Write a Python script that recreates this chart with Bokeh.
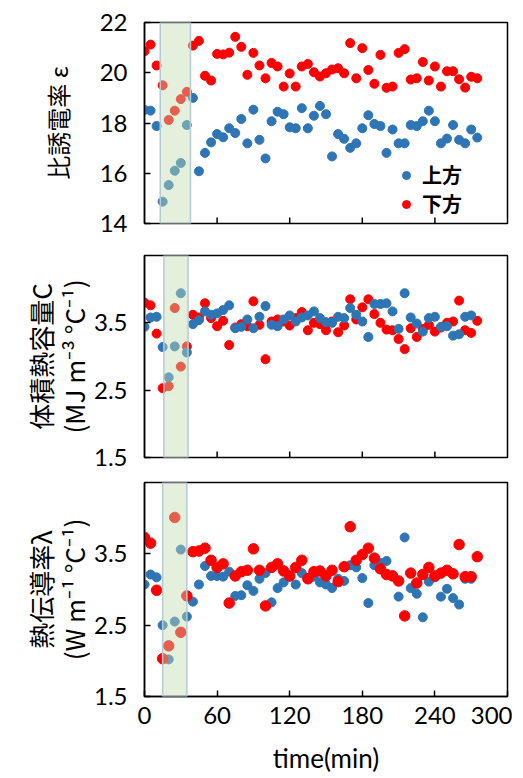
import math
from bokeh.plotting import figure
from bokeh.layouts import column
from bokeh.models import BoxAnnotation, Legend, LegendItem, FixedTicker, Range1d
from bokeh.embed import file_html
from bokeh.resources import INLINE

# time (min)
time_lower = [0, 5, 10, 15, 20, 25, 30, 35, 40, 45, 50, 55, 60, 65, 70, 75, 80, 85, 90, 95,
              100, 105, 110, 115, 120, 125, 130, 135, 140, 145, 150, 155, 160, 165, 170, 175,
              180, 185, 190, 195, 200, 205, 210, 215, 220, 225, 230, 235, 240, 245, 250, 255,
              260, 265, 270, 275]
time_upper = [0, 5, 10, 15, 20, 25, 30, 35, 40, 45, 50, 55, 60, 65, 70, 75, 80, 85, 90, 95,
              100, 105, 110, 115, 120, 125, 130, 135, 140, 145, 150, 155, 160, 165, 170, 175,
              180, 185, 190, 195, 200, 205, 210, 215, 220, 225, 230, 235, 240, 245, 250, 255,
              260, 265, 270]
time_upper_eps = time_lower

# 比誘電率 ε
eps_upper = [18.52, 18.49, 17.88, 14.87, 15.53, 16.10, 16.41, 17.92, 19.00, 16.08,
             16.81, 17.23, 17.56, 17.43, 17.79, 17.60, 18.16, 17.19, 18.53, 17.33,
             16.59, 18.07, 18.45, 18.35, 17.83, 17.79, 18.59, 17.79, 18.29, 18.68,
             18.35, 16.67, 17.56, 17.37, 17.01, 17.19, 17.79, 18.31, 17.96, 17.88,
             16.81, 17.74, 17.19, 17.19, 17.92, 17.88, 18.07, 18.49, 18.07, 17.19,
             17.38, 17.92, 17.33, 17.19, 17.74, 17.42]
eps_lower = [20.86, 21.12, 20.29, 19.50, 18.12, 18.49, 18.95, 19.24, 21.08, 21.27,
             19.88, 19.69, 20.75, 20.73, 20.80, 21.43, 21.03, 19.92, 20.79, 20.29,
             19.78, 20.39, 20.25, 19.45, 19.97, 19.45, 20.25, 20.35, 20.02, 19.85,
             19.98, 20.13, 20.18, 19.98, 21.18, 19.78, 20.98, 20.11, 19.56, 20.71,
             19.40, 19.45, 20.79, 20.94, 19.73, 19.78, 20.43, 19.69, 20.25, 19.45,
             20.06, 20.06, 19.74, 19.41, 19.84, 19.78]

# 体積熱容量 C
C_upper = [3.44, 3.58, 3.59, 3.14, 2.69, 3.15, 3.94, 3.06, 3.48, 3.54,
           3.67, 3.62, 3.64, 3.69, 3.76, 3.42, 3.44, 3.55, 3.42, 3.59,
           3.75, 3.47, 3.45, 3.55, 3.61, 3.52, 3.58, 3.61, 3.67, 3.57,
           3.51, 3.50, 3.59, 3.57, 3.72, 3.62, 3.52, 3.29, 3.78, 3.78,
           3.79, 3.67, 3.41, 3.94, 3.58, 3.49, 3.37, 3.57, 3.59, 3.44,
           3.45, 3.31, 3.33, 3.59, 3.61]
C_lower = [3.80, 3.76, 3.34, 2.53, 2.56, 3.72, 2.85, 3.15, 3.62, 3.58,
           3.79, 3.57, 3.45, 3.53, 3.17, 3.43, 3.48, 3.45, 3.82, 3.47,
           2.96, 3.52, 3.55, 3.52, 3.46, 3.57, 3.66, 3.39, 3.50, 3.48,
           3.39, 3.52, 3.36, 3.46, 3.85, 3.55, 3.73, 3.85, 3.63, 3.50,
           3.40, 3.39, 3.26, 3.11, 3.42, 3.29, 3.41, 3.47, 3.37, 3.43,
           3.50, 3.52, 3.83, 3.39, 3.35, 3.53]

# 熱伝導率 λ
lam_upper = [3.07, 3.21, 3.17, 2.50, 2.02, 2.55, 3.56, 2.62, 2.83, 3.07,
             3.33, 3.19, 3.19, 3.18, 3.25, 2.91, 2.92, 3.06, 2.98, 3.15,
             3.23, 2.82, 3.02, 3.10, 3.18, 3.07, 3.23, 3.16, 3.18, 3.10,
             3.07, 3.02, 3.15, 3.12, 3.34, 3.31, 3.16, 2.81, 3.34, 3.37,
             3.40, 3.20, 2.90, 3.73, 3.02, 2.94, 2.61, 3.11, 3.17, 2.90,
             3.01, 2.88, 2.79, 3.15, 3.15]
lam_lower = [3.73, 3.65, 2.99, 2.03, 2.21, 4.01, 2.40, 2.91, 3.53, 3.54,
             3.58, 3.41, 3.31, 3.36, 2.81, 3.19, 3.25, 3.27, 3.57, 3.27,
             2.77, 3.31, 3.36, 3.26, 3.19, 3.31, 3.41, 3.15, 3.25, 3.26,
             3.19, 3.27, 3.11, 3.32, 3.88, 3.41, 3.49, 3.58, 3.44, 3.29,
             3.21, 3.19, 3.12, 2.63, 3.23, 3.09, 3.21, 3.31, 3.19, 3.23,
             3.27, 3.22, 3.63, 3.18, 3.18, 3.46]

x_ticks = [0, 60, 120, 180, 240, 300]
eps_ticks = [14, 16, 18, 20, 22]
prop_ticks = [1.5, 2.5, 3.5]
eps_range = (14, 22)
prop_range = (1.5, 4.5)
band_eps = (13, 38)
band_C = (16, 36)
band_lam = (15, 35)

BLUE = "#2e75b6"
RED = "#ff0000"
NUM_FONT = "Lato"
JP_FONT = "Noto Sans CJK JP"


def make(height, b_top, b_bottom, y_range, y_ticks, y_label, label_size, label_standoff,
         line_h, show_x, band):
    p = figure(width=512, height=height, output_backend="svg", toolbar_location=None,
               x_range=Range1d(0, 300), y_range=Range1d(*y_range),
               min_border_left=144, min_border_right=5,
               min_border_top=b_top, min_border_bottom=b_bottom)
    p.grid.visible = False
    p.outline_line_color = "black"
    p.outline_line_width = 1.5
    p.background_fill_color = "white"
    p.border_fill_color = "white"

    for ax in (p.xaxis, p.yaxis):
        ax.axis_line_color = "black"
        ax.axis_line_width = 1.5
        ax.major_tick_line_color = "black"
        ax.major_tick_line_width = 1.5
        ax.major_tick_in = 6
        ax.major_tick_out = 0
        ax.minor_tick_line_color = None
        ax.major_label_text_font = NUM_FONT
        ax.major_label_text_font_size = "24px"
        ax.major_label_text_color = "black"

    p.xaxis.ticker = FixedTicker(ticks=x_ticks)
    p.yaxis.ticker = FixedTicker(ticks=y_ticks)
    p.yaxis.major_label_standoff = 17
    p.yaxis.axis_label = y_label
    p.yaxis.axis_label_text_font = JP_FONT
    p.yaxis.axis_label_text_font_size = label_size
    p.yaxis.axis_label_text_font_style = "normal"
    p.yaxis.axis_label_text_color = "black"
    p.yaxis.axis_label_standoff = label_standoff
    p.yaxis.axis_label_text_line_height = line_h

    if show_x:
        p.xaxis.major_label_standoff = 10
        p.xaxis.axis_label = "time(min)"
        p.xaxis.axis_label_text_font = NUM_FONT
        p.xaxis.axis_label_text_font_size = "26px"
        p.xaxis.axis_label_text_font_style = "normal"
        p.xaxis.axis_label_text_color = "black"
        p.xaxis.axis_label_standoff = 15
    else:
        # no tick labels on the upper panels: only the inward tick marks
        p.xaxis.visible = False
        p.scatter(x_ticks[1:-1], [y_range[0]] * (len(x_ticks) - 2), marker="dash",
                  angle=math.pi / 2, size=12, line_color="black", line_width=1.5)

    box = BoxAnnotation(left=band[0], right=band[1], fill_color="#c2dbaf", fill_alpha=0.44,
                        line_color="#b3cbd3", line_width=1.5, line_alpha=1.0)
    return p, box


# Top panel
p1, box1 = make(239, 22, 16, eps_range, eps_ticks, "比誘電率 ε", "24px", 22, 1.0,
                False, band_eps)
r_up = p1.scatter(time_upper_eps, eps_upper, size=9, color=BLUE)
r_lo = p1.scatter(time_lower, eps_lower, size=9, color=RED)
p1.add_layout(box1)
legend = Legend(items=[LegendItem(label="上方", renderers=[r_up]),
                       LegendItem(label="下方", renderers=[r_lo])],
                location=(252, 5), padding=0, margin=0, spacing=0,
                glyph_width=20, glyph_height=20, label_height=20, label_standoff=6,
                label_text_font=JP_FONT, label_text_font_size="20px",
                label_text_font_style="bold", label_text_color="black",
                border_line_color=None, background_fill_alpha=0)
p1.add_layout(legend)

# Middle panel
p2, box2 = make(231, 16, 13, prop_range, prop_ticks,
                "体積熱容量C\n(MJ m⁻³ °C⁻¹)", "26px", -1, 0.9, False, band_C)
p2.scatter(time_lower, C_lower, size=9, color=RED)
p2.scatter(time_upper, C_upper, size=9, color=BLUE)
p2.add_layout(box2)

# Bottom panel
p3, box3 = make(307, 12, 81, prop_range, prop_ticks,
                "熱伝導率λ\n(W m⁻¹ °C⁻¹)", "26px", -1, 0.9, True, band_lam)
p3.scatter(time_upper, lam_upper, size=9, color=BLUE)
p3.scatter(time_lower, lam_lower, size=10.5, color=RED)
p3.add_layout(box3)

layout = column(p1, p2, p3, spacing=0)
open("out.html", "w").write(file_html(layout, INLINE))
